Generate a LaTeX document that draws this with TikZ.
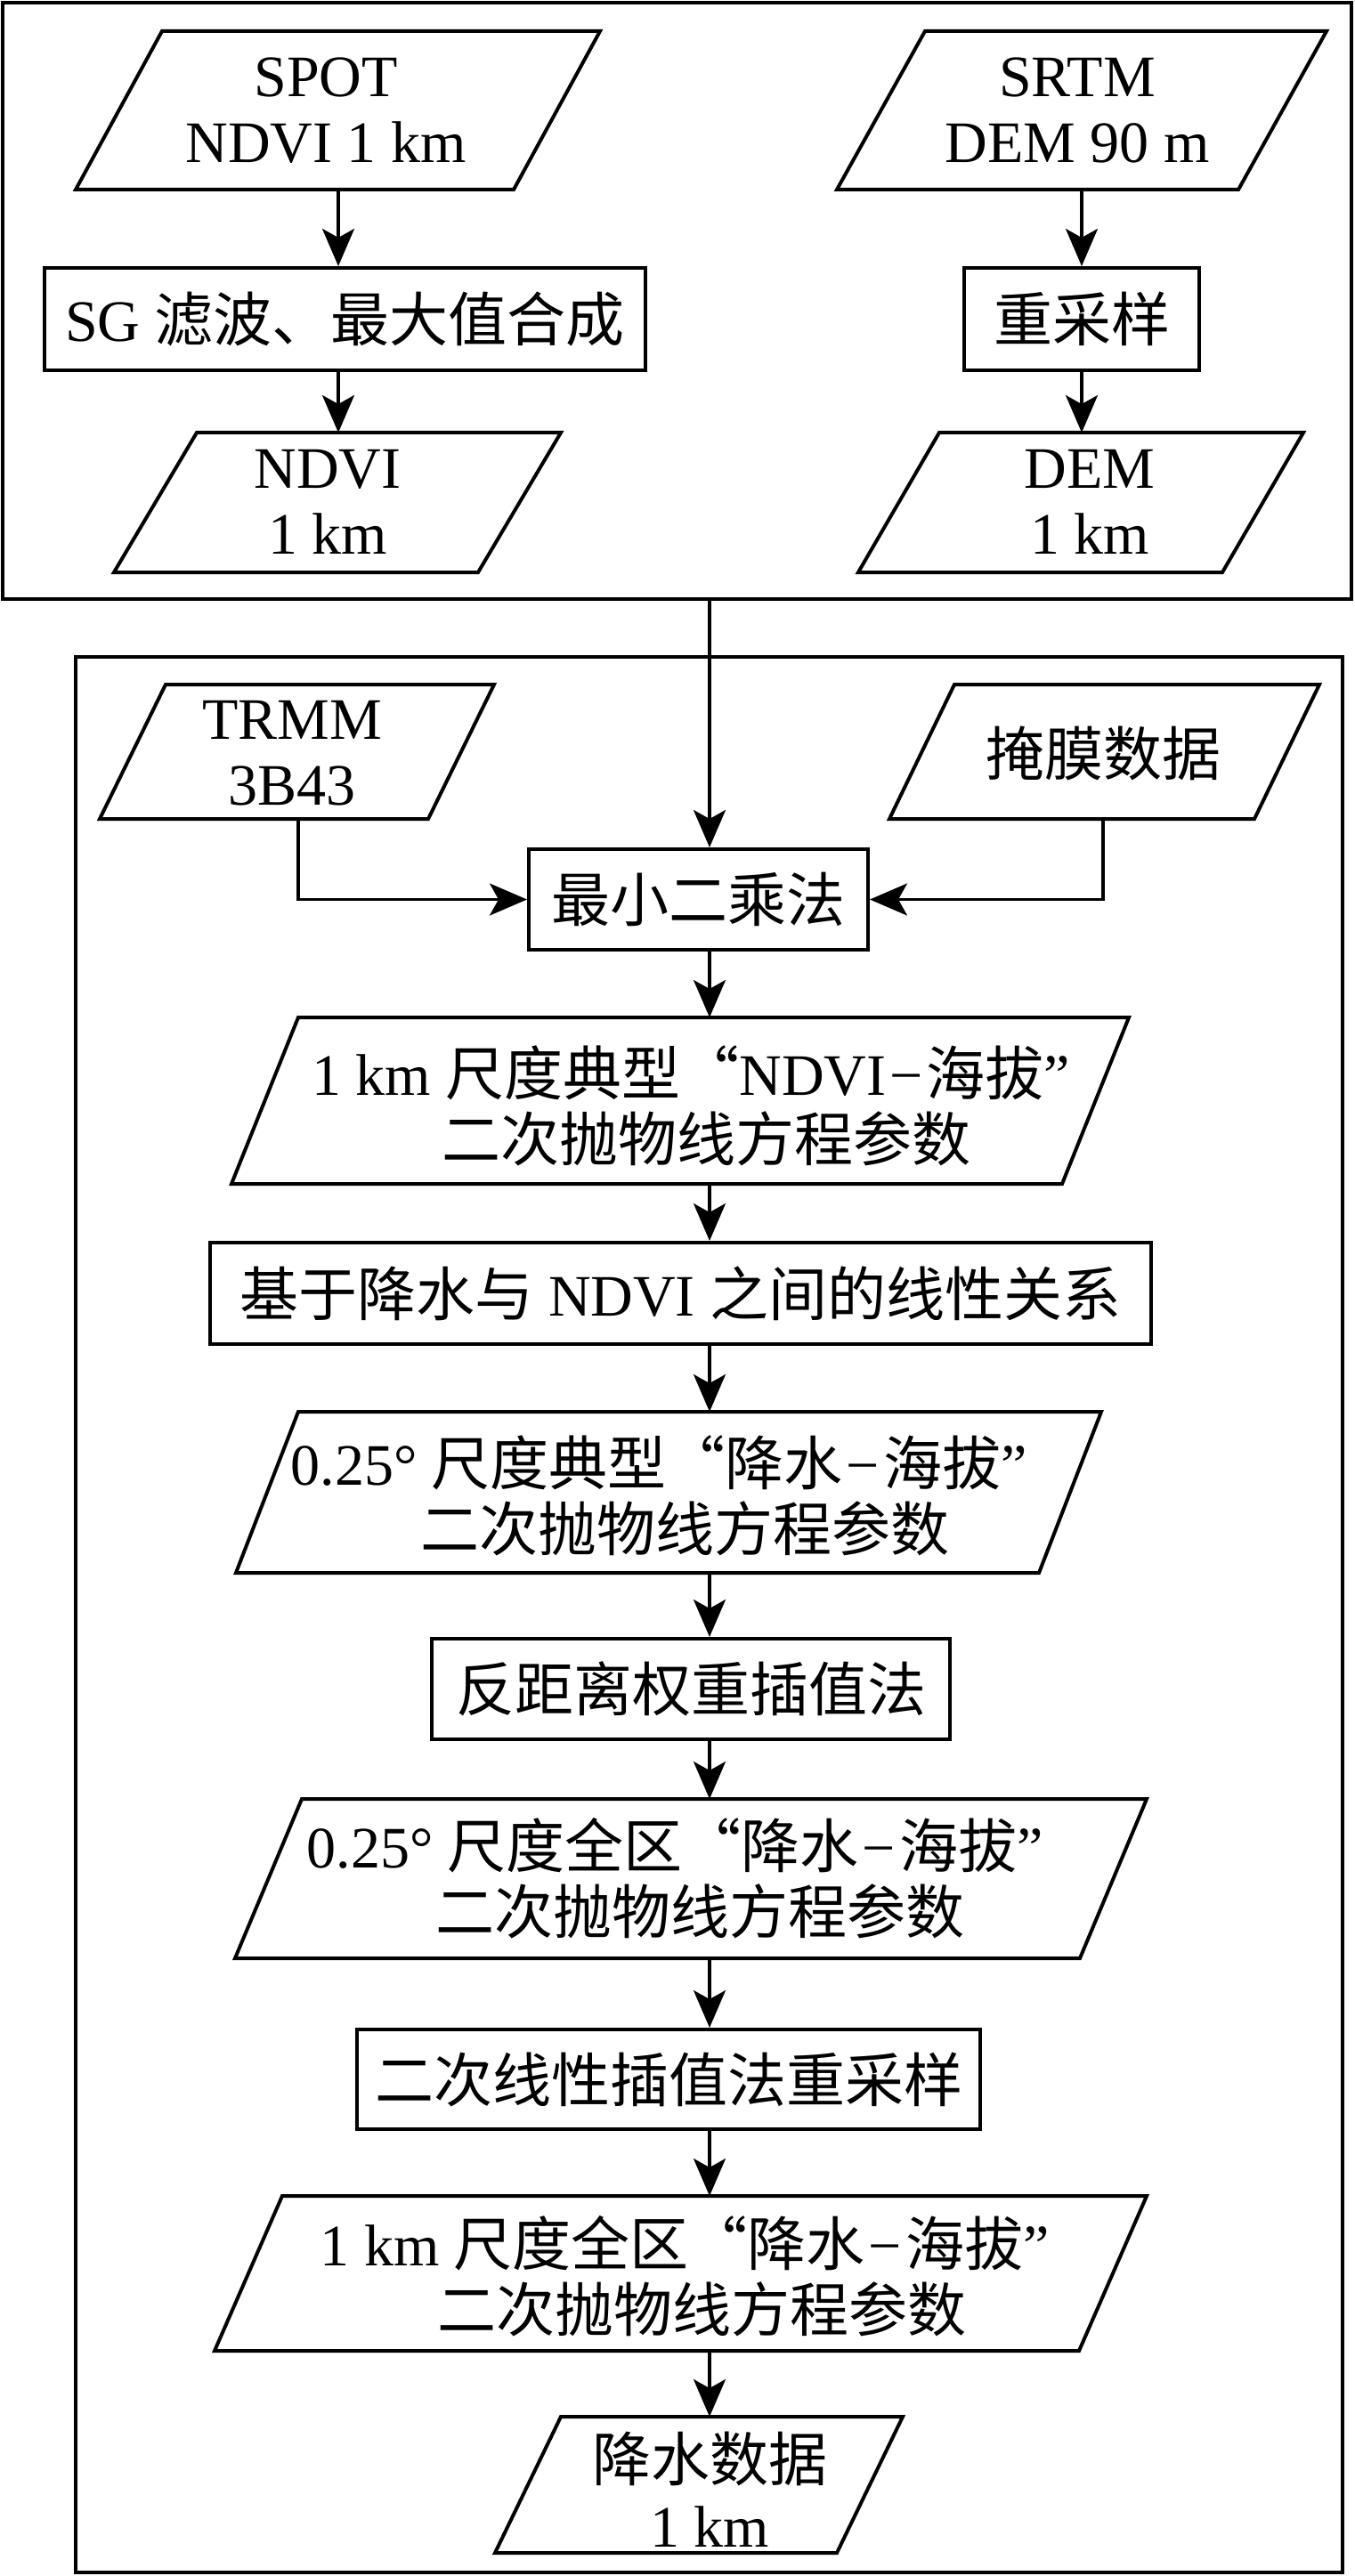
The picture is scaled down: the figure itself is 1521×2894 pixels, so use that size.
\documentclass[tikz,border=0pt]{standalone}
\usepackage{fontspec}
\setmainfont{Liberation Serif}
\newfontfamily\cjk{Noto Sans CJK SC}
\usetikzlibrary{arrows.meta}
\newcommand{\mainfs}{\fontsize{33pt}{37pt}\selectfont}
\newcommand{\dsh}{\kern2pt−\kern2pt}
\newcommand{\parashape}[7]{%
  \draw[boxline] (#5,#3) -- (#6,#3) -- ({#7+#6-#5},#4) -- (#7,#4) -- cycle;
  \coordinate (#1-n) at (#2,#3);
  \coordinate (#1-s) at (#2,#4);
}
\begin{document}
\begin{tikzpicture}[x=0.5pt,y=-0.5pt,
  boxline/.style={line width=2pt, line join=miter},
  procbox/.style={draw, line width=2pt, rectangle, inner sep=0pt, font=\mainfs},
  frame/.style={draw, line width=2.2pt, rectangle, inner sep=0pt},
  txt/.style={align=center, inner sep=0pt, font=\mainfs},
  arr/.style={line width=1.6pt, -{Stealth[length=21pt,width=18pt,inset=5pt]}}]
\useasboundingbox (0,0) rectangle (1521,2894);
\fill[white] (0,0) rectangle (1521,2894);

% frames
\node[frame, minimum width=757.5pt, minimum height=335pt] (topframe) at (760.5,338) {};
\node[frame, minimum width=711.5pt, minimum height=1076pt] (innerframe) at (796.5,1814) {};
\coordinate (axis) at (797,0);

% top part
\parashape{spot}{380}{35}{213}{182}{674}{85}
\node[txt] (spottxt) at (366,124) {SPOT\\NDVI 1 km};
\node[procbox, minimum width=337.5pt, minimum height=57.5pt] (sg) at (387.5,358.5) {SG {\cjk 滤波、最大值合成}};
\parashape{ndvi}{380}{486}{643}{221}{630}{128}
\node[txt] (ndvitxt) at (368,564) {NDVI\\1 km};

\parashape{srtm}{1215}{35}{213}{1039}{1490}{940}
\node[txt] (srtmtxt) at (1210,124) {SRTM\\DEM 90 m};
\node[procbox, minimum width=132pt, minimum height=57.5pt] (resamp) at (1215,358.5) {\cjk 重采样};
\parashape{dem}{1215}{486}{643}{1055}{1464}{964}
\node[txt] (demtxt) at (1224,564) {DEM\\1 km};

% inner part
\parashape{trmm}{335}{769}{920}{186}{555}{112}
\node[txt] (trmmtxt) at (328,846) {TRMM\\3B43};
\parashape{mask}{1239}{769}{920}{1072}{1482}{999}
\node[txt] (masktxt) at (1239,846) {\cjk 掩膜数据};
\node[procbox, minimum width=190.5pt, minimum height=56.5pt] (lsq) at (784.5,1010.5) {\cjk 最小二乘法};

\parashape{p1}{797}{1143}{1330}{335}{1268}{260}
\node[txt] (p1txt) at (776,1242) {1 km {\cjk 尺度典型“}NDVI\dsh{\cjk 海拔}”\\\hspace*{17pt}{\cjk 二次抛物线方程参数}};
\node[procbox, minimum width=528.5pt, minimum height=57pt] (rel) at (764.5,1453) {{\cjk 基于降水与} NDVI {\cjk 之间的线性关系}};
\parashape{p2}{797}{1586}{1767}{335}{1237}{265}
\node[txt] (p2txt) at (740,1680) {0.25° {\cjk 尺度典型“降水}\dsh{\cjk 海拔}”\\\hspace*{29pt}{\cjk 二次抛物线方程参数}};
\node[procbox, minimum width=291pt, minimum height=56.5pt] (idw) at (776,1897.5) {\cjk 反距离权重插值法};
\parashape{p3}{797}{2021}{2200}{339}{1288}{264}
\node[txt] (p3txt) at (758,2110) {0.25° {\cjk 尺度全区“降水}\dsh{\cjk 海拔}”\\\hspace*{28pt}{\cjk 二次抛物线方程参数}};
\node[procbox, minimum width=350pt, minimum height=56pt] (bilin) at (751,2336) {\cjk 二次线性插值法重采样};
\parashape{p4}{797}{2467}{2641}{317}{1288}{241}
\node[txt] (p4txt) at (769,2557) {1 km {\cjk 尺度全区“降水}\dsh{\cjk 海拔}”\\\hspace*{19pt}{\cjk 二次抛物线方程参数}};
\parashape{rain}{797}{2715}{2868}{630}{1014}{556}
\node[txt] (raintxt) at (797,2797) {{\cjk 降水数据}\\1 km};

% connectors
\draw[arr] (spot-s) -- (spot-s |- sg.north);
\draw[arr] (sg.south -| ndvi-n) -- (ndvi-n);
\draw[arr] (srtm-s) -- (srtm-s |- resamp.north);
\draw[arr] (resamp.south -| dem-n) -- (dem-n);
\draw[arr] (topframe.south -| axis) -- (lsq.north -| axis);
\draw[arr] (trmm-s) |- (lsq.west);
\draw[arr] (mask-s) |- (lsq.east);
\draw[arr] (lsq.south -| axis) -- (p1-n);
\draw[arr] (p1-s) -- (rel.north -| axis);
\draw[arr] (rel.south -| axis) -- (p2-n);
\draw[arr] (p2-s) -- (idw.north -| axis);
\draw[arr] (idw.south -| axis) -- (p3-n);
\draw[arr] (p3-s) -- (bilin.north -| axis);
\draw[arr] (bilin.south -| axis) -- (p4-n);
\draw[arr] (p4-s) -- (rain-n);
\end{tikzpicture}
\end{document}
